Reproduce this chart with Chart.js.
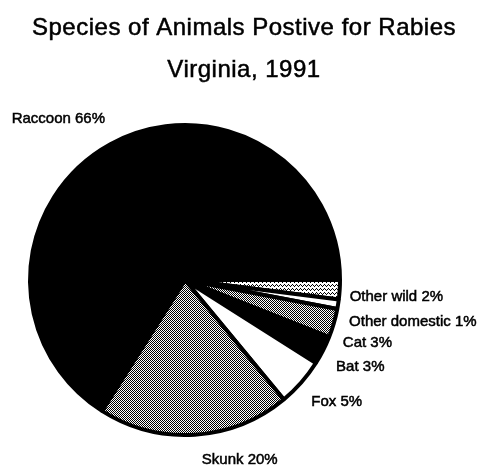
<!DOCTYPE html>
<html>
<head>
<meta charset="utf-8">
<script src="https://cdn.jsdelivr.net/npm/chart.js@4/dist/chart.umd.min.js"></script>
<style>
  html, body { margin: 0; padding: 0; background: #fff; }
  #wrap { width: 481px; height: 471px; }
</style>
</head>
<body>
<div id="wrap"><canvas id="c" width="481" height="471"></canvas></div>
<script>
// Rabies-positive animals by species, Virginia 1991 (percent of cases)
const titleLines = ['Species of Animals Postive for Rabies', 'Virginia, 1991'];
const species = ['Other wild', 'Other domestic', 'Cat', 'Bat', 'Fox', 'Skunk', 'Raccoon'];
const percents = [2, 1, 3, 3, 5, 20, 66];

// Small bitmap fills: '#' = black pixel, '.' = white pixel
function bitmapPattern(rows) {
  const cv = document.createElement('canvas');
  cv.width = rows[0].length;
  cv.height = rows.length;
  const g = cv.getContext('2d');
  g.fillStyle = '#fff';
  g.fillRect(0, 0, cv.width, cv.height);
  g.fillStyle = '#000';
  rows.forEach((row, y) => {
    [...row].forEach((ch, x) => { if (ch === '#') g.fillRect(x, y, 1, 1); });
  });
  return g.createPattern(cv, 'repeat');
}

const ctx0 = document.getElementById('c').getContext('2d');
const checker = bitmapPattern(['#.', '.#']);
const sparse = bitmapPattern(['#...', '.#.#', '..#.', '....']);

const fills = [sparse, '#ffffff', checker, '#000000', '#ffffff', checker, '#000000'];

// Where each text label sits relative to the rim point at its slice's middle angle
const labelNudges = [
  { dx: 10, dy: 7, align: 'left' },
  { dx: 11, dy: 18, align: 'left' },
  { dx: 9, dy: 20, align: 'left' },
  { dx: 13, dy: 16, align: 'left' },
  { dx: 10, dy: 19, align: 'left' },
  { dx: 45, dy: 25, align: 'center' },
  { dx: -52, dy: -25, align: 'center' }
];

// Draws text with a hairline outline so the strokes read a little heavier
function heavyText(c, str, x, y, weight) {
  c.lineWidth = weight;
  c.strokeStyle = '#000';
  c.strokeText(str, x, y);
  c.fillText(str, x, y);
}

const headline = {
  id: 'headline',
  afterDraw(chart) {
    const c = chart.ctx;
    c.save();
    c.fillStyle = '#000';
    c.textAlign = 'center';
    c.textBaseline = 'alphabetic';
    c.font = '24px "Liberation Sans", Arial, sans-serif';
    c.letterSpacing = '0.5px';
    heavyText(c, titleLines[0], 244, 35, 0.5);
    heavyText(c, titleLines[1], 244, 77, 0.5);
    c.restore();
  }
};

const sliceLabels = {
  id: 'sliceLabels',
  afterDatasetsDraw(chart) {
    const c = chart.ctx;
    const meta = chart.getDatasetMeta(0);
    c.save();
    c.fillStyle = '#000';
    c.textBaseline = 'middle';
    c.font = '15px "Liberation Sans", Arial, sans-serif';
    meta.data.forEach((arc, i) => {
      const p = arc.getProps(['x', 'y', 'startAngle', 'endAngle', 'outerRadius'], true);
      const mid = (p.startAngle + p.endAngle) / 2;
      const rx = p.x + Math.cos(mid) * p.outerRadius;
      const ry = p.y + Math.sin(mid) * p.outerRadius;
      const n = labelNudges[i];
      c.textAlign = n.align;
      heavyText(c, species[i] + ' ' + percents[i] + '%', rx + n.dx, ry + n.dy, 0.5);
    });
    c.restore();
  }
};

new Chart(ctx0, {
  type: 'pie',
  data: {
    labels: species,
    datasets: [{
      data: percents,
      backgroundColor: fills,
      borderColor: '#000',
      borderWidth: 4
    }]
  },
  options: {
    responsive: false,
    animation: false,
    events: [],
    rotation: 90,
    layout: { padding: { left: 28, right: 139, top: 123, bottom: 34 } },
    plugins: {
      legend: { display: false },
      tooltip: { enabled: false },
      title: { display: false }
    }
  },
  plugins: [headline, sliceLabels]
});
</script>
</body>
</html>
